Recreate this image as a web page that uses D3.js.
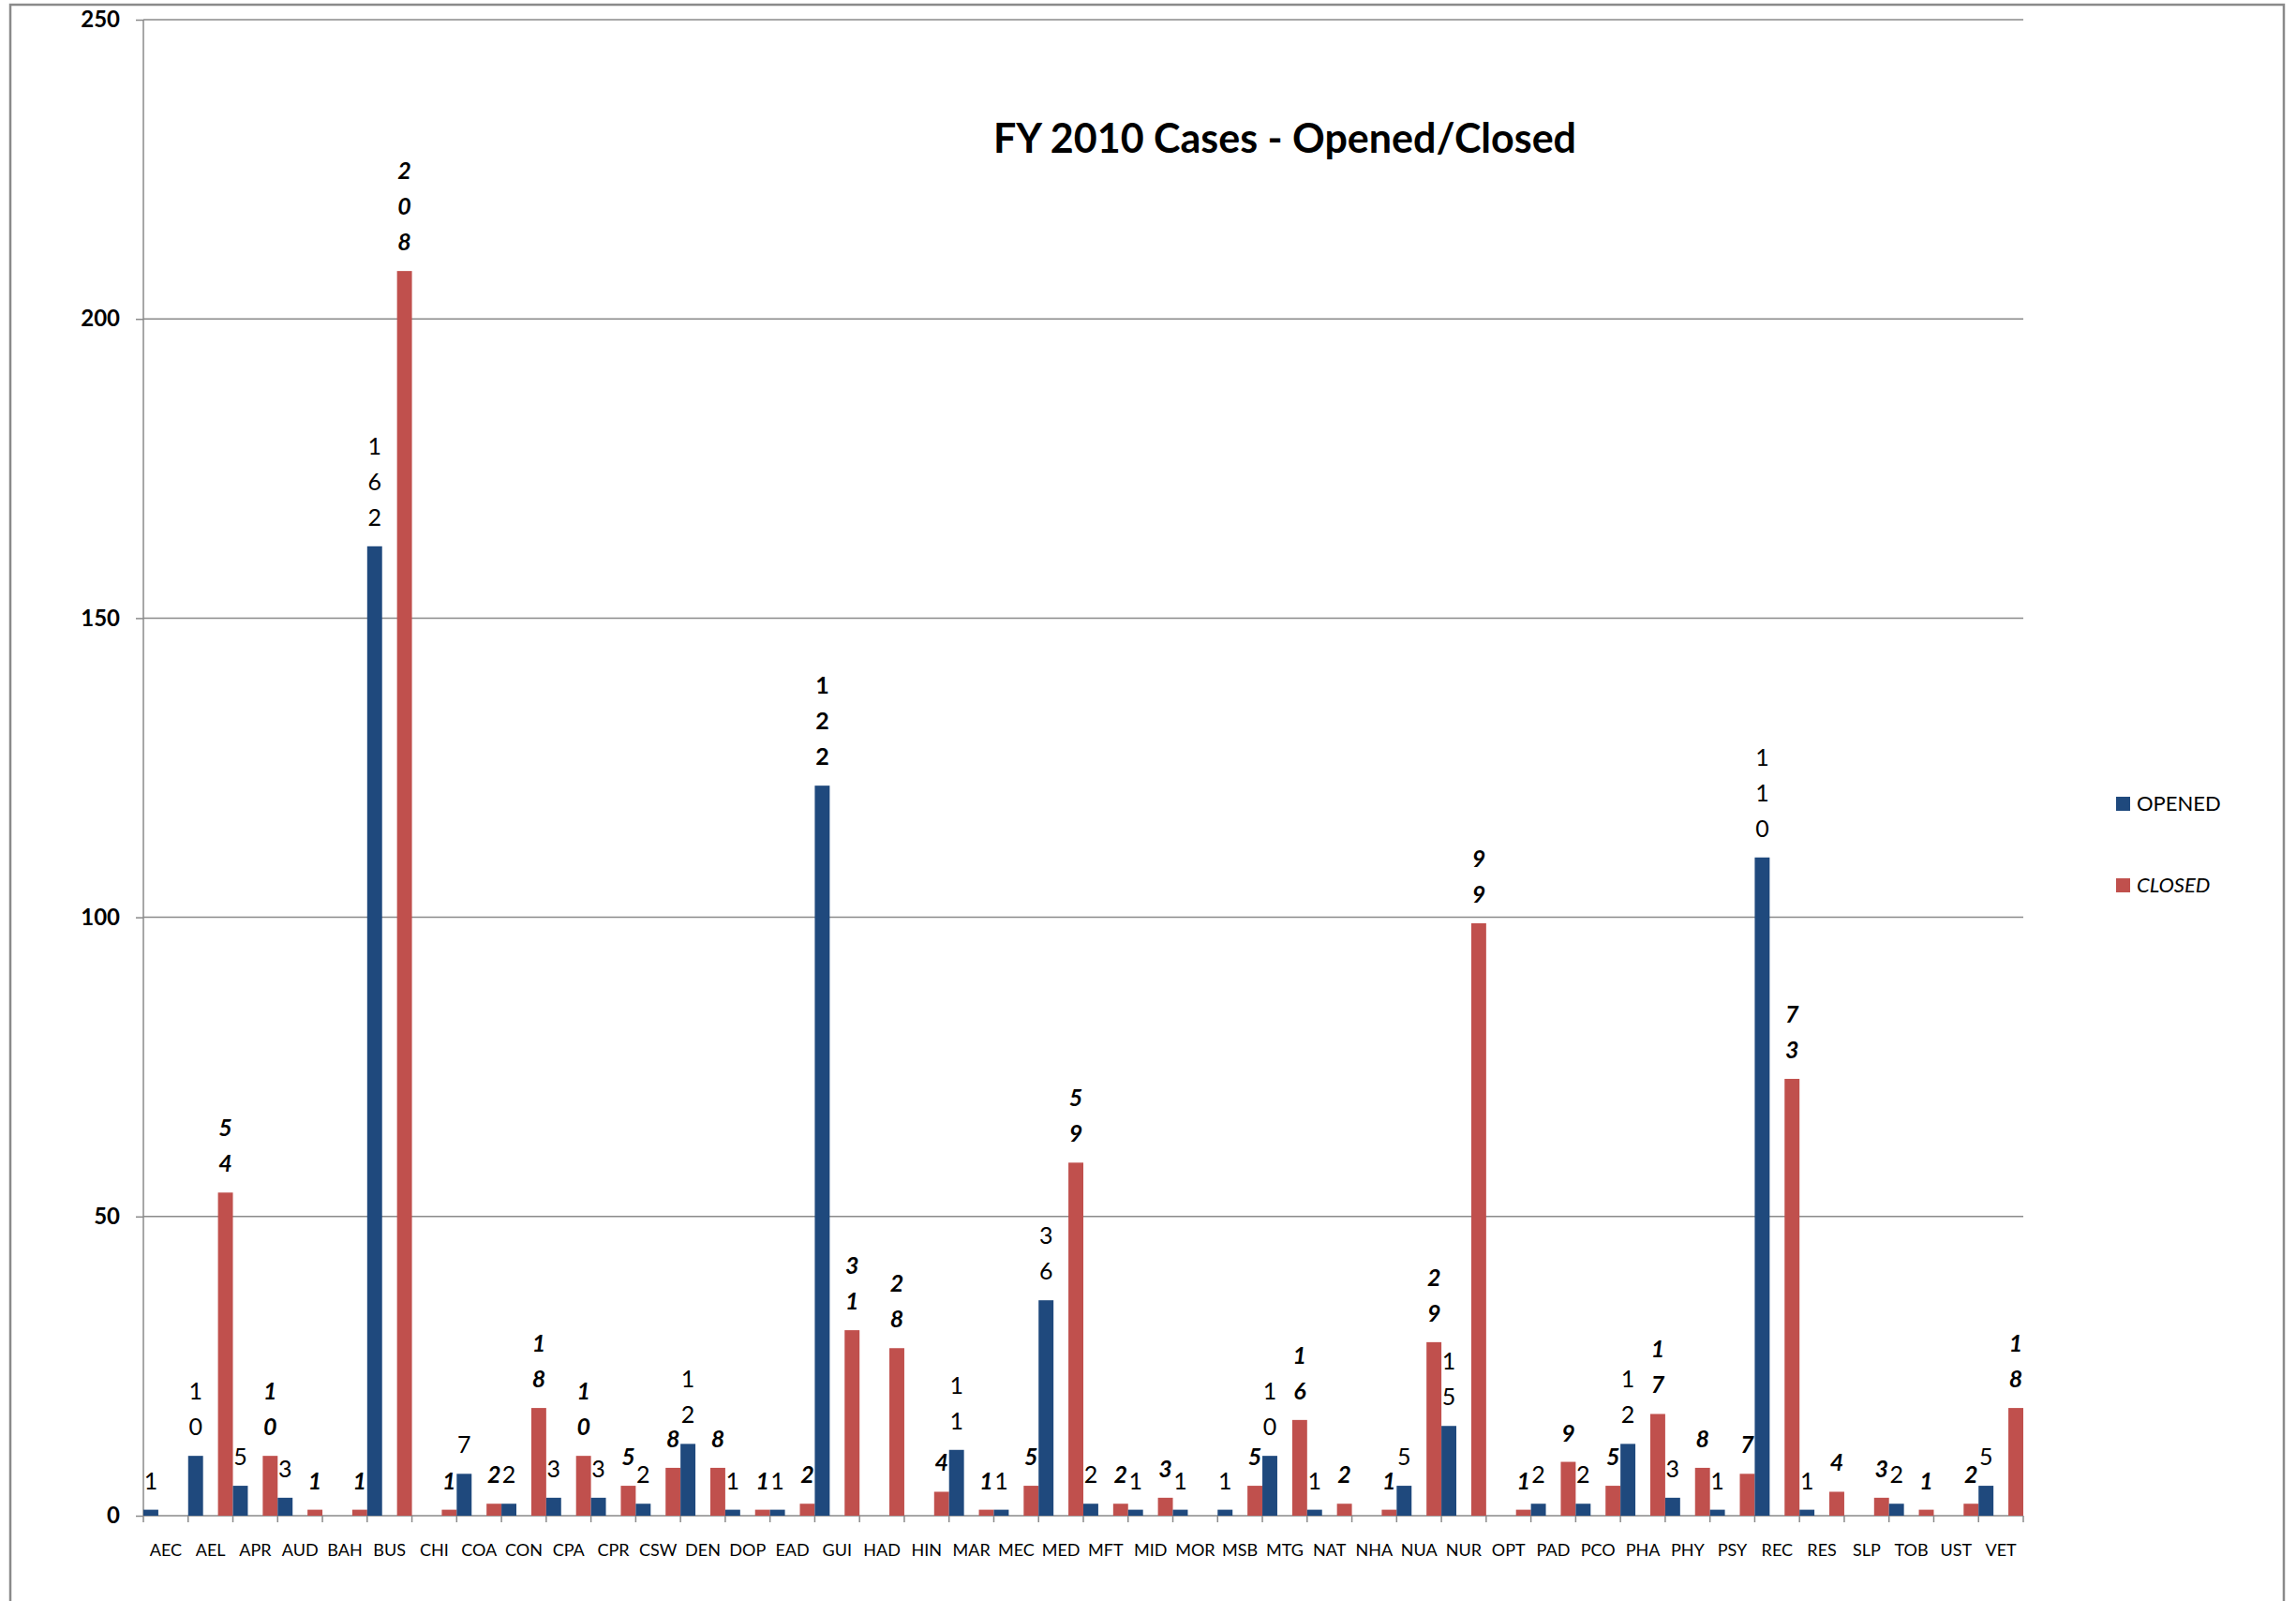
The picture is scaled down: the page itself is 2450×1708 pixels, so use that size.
<!DOCTYPE html>
<meta charset="utf-8">
<style>

body {
  margin: 0;
  background: #fff;
  font-family: Lato, sans-serif;
}

.axis path,
.axis line {
  fill: none;
  stroke: #8a8a8a;
  stroke-width: 1.5px;
}

.grid line {
  stroke: #8a8a8a;
  stroke-width: 1.5px;
}

.axis text {
  font-family: Lato, sans-serif;
  fill: #000;
}

.x.axis text {
  font-size: 18px;
}

.y.axis text {
  font-size: 24px;
  font-weight: bold;
}

</style>
<body>
<script src="https://d3js.org/d3.v7.min.js"></script>
<script>

var categories = ["AEC","AEL","APR","AUD","BAH","BUS","CHI","COA","CON","CPA","CPR","CSW","DEN","DOP",
                  "EAD","GUI","HAD","HIN","MAR","MEC","MED","MFT","MID","MOR","MSB","MTG","NAT","NHA",
                  "NUA","NUR","OPT","PAD","PCO","PHA","PHY","PSY","REC","RES","SLP","TOB","UST","VET"];

// (window.closed is read-only, hence the longer names)
var openedCases = [1,10,5,3,0,162,0,7,2,3,3,2,12,1,
                   1,122,0,0,11,1,36,2,1,1,1,10,1,0,
                   5,15,0,2,2,12,3,1,110,1,0,2,0,5];

var closedCases = [0,54,10,1,1,208,1,2,18,10,5,8,8,1,
                   2,31,28,4,1,5,59,2,3,0,5,16,2,1,
                   29,99,1,9,5,17,8,7,73,4,3,1,2,18];

var series = ["OPENED", "CLOSED"];
var yTicks = [0, 50, 100, 150, 200, 250];
var boldOpened = ["GUI"];   // this one label came out bold in the original
var title = "FY 2010 Cases - Opened/Closed";

var W = 2450, H = 1708;
var plot = {left: 153, right: 2159, top: 21, bottom: 1617};

var svg = d3.select("body").append("svg")
    .attr("width", W)
    .attr("height", H);

// outer frame of the chart area
svg.append("rect")
    .attr("x", 11)
    .attr("y", 5)
    .attr("width", 2426)
    .attr("height", 1750)
    .attr("fill", "none")
    .attr("stroke", "#8a8a8a")
    .attr("stroke-width", 2.5);

var x = d3.scaleBand()
    .domain(categories)
    .range([plot.left, plot.right])
    .padding(0);

// each category is split in three slots: opened | gap | closed
var slot = d3.scaleBand()
    .domain(["OPENED", "gap", "CLOSED"])
    .range([0, x.bandwidth()]);

var y = d3.scaleLinear()
    .domain([0, 250])
    .range([plot.bottom, plot.top]);

var color = d3.scaleOrdinal()
    .domain(series)
    .range(["#1F497D", "#C0504D"]);

// gridlines
svg.append("g")
    .attr("class", "grid")
  .selectAll("line")
    .data(yTicks.slice(1))
  .enter().append("line")
    .attr("x1", plot.left)
    .attr("x2", plot.right)
    .attr("y1", function(d) { return y(d); })
    .attr("y2", function(d) { return y(d); });

var yAxis = d3.axisLeft(y)
    .tickValues(yTicks)
    .tickSize(8)
    .tickPadding(17)
    .tickFormat(d3.format("d"));

svg.append("g")
    .attr("class", "y axis")
    .attr("transform", "translate(" + plot.left + ",0)")
    .call(yAxis)
    .call(function(g) { g.select(".domain").attr("d", "M0," + plot.top + "V" + plot.bottom); });

var xAxis = d3.axisBottom(x)
    .tickSize(0)
    .tickPadding(30);

var xg = svg.append("g")
    .attr("class", "x axis")
    .attr("transform", "translate(0," + plot.bottom + ")")
    .call(xAxis);

xg.select(".domain").attr("d", "M" + plot.left + ",0H" + plot.right);

// tick marks on the category boundaries
xg.selectAll(".bound")
    .data(categories.concat(["end"]))
  .enter().append("line")
    .attr("class", "bound")
    .attr("x1", function(d) { return d === "end" ? plot.right : x(d); })
    .attr("x2", function(d) { return d === "end" ? plot.right : x(d); })
    .attr("y1", 0)
    .attr("y2", 7);

var rows = [];
categories.forEach(function(c, i) {
  rows.push({cat: c, key: "OPENED", value: openedCases[i]});
  rows.push({cat: c, key: "CLOSED", value: closedCases[i]});
});
var nonZero = rows.filter(function(d) { return d.value > 0; });

svg.append("g")
  .selectAll("rect")
    .data(nonZero)
  .enter().append("rect")
    .attr("x", function(d) { return x(d.cat) + slot(d.key); })
    .attr("y", function(d) { return y(d.value); })
    .attr("width", slot.bandwidth())
    .attr("height", function(d) { return plot.bottom - y(d.value); })
    .style("fill", function(d) { return color(d.key); });

// data labels, one digit per line like the original
var labels = svg.append("g")
  .selectAll("text")
    .data(nonZero)
  .enter().append("text")
    .attr("text-anchor", "middle")
    .style("font-size", "25px")
    .style("font-weight", function(d) {
      return d.key === "CLOSED" || boldOpened.indexOf(d.cat) >= 0 ? "bold" : "normal";
    })
    .style("font-style", function(d) { return d.key === "CLOSED" ? "italic" : "normal"; });

labels.each(function(d) {
  var digits = String(d.value).split("");
  var cx = x(d.cat) + slot(d.key) + slot.bandwidth() / 2;
  var t = d3.select(this);
  digits.forEach(function(ch, k) {
    t.append("tspan")
        .attr("x", cx)
        .attr("y", y(d.value) - 22 - (digits.length - 1 - k) * 38)
        .text(ch);
  });
});

svg.append("text")
    .attr("x", 1371)
    .attr("y", 163)
    .attr("text-anchor", "middle")
    .style("font-size", "43px")
    .style("font-weight", "bold")
    .text(title);

var legend = svg.selectAll(".legend")
    .data(series)
  .enter().append("g")
    .attr("class", "legend")
    .attr("transform", function(d, i) { return "translate(2258," + (850 + i * 87) + ")"; });

legend.append("rect")
    .attr("width", 15)
    .attr("height", 15)
    .style("fill", color);

legend.append("text")
    .attr("x", 22)
    .attr("y", 15)
    .style("font-size", "22px")
    .style("font-style", function(d) { return d === "CLOSED" ? "italic" : "normal"; })
    .text(function(d) { return d; });

</script>
